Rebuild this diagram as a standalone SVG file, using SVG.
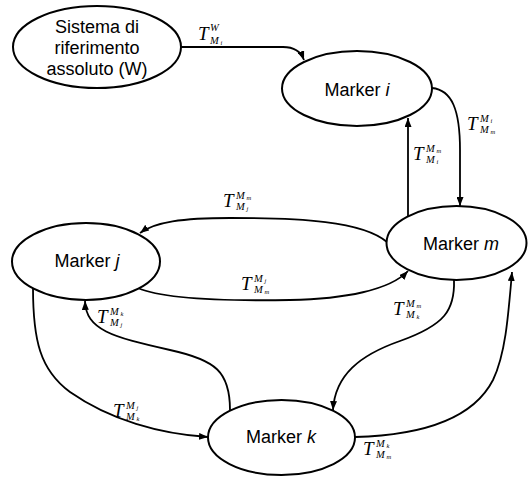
<svg xmlns="http://www.w3.org/2000/svg" width="528" height="478" viewBox="0 0 528 478">
  <style>
    .node ellipse { fill: #ffffff; stroke: #000000; stroke-width: 2; }
    .node text { font-family: "Liberation Sans", Arial, sans-serif; font-size: 18px; fill: #000000; text-anchor: middle; }
    .it { font-style: italic; }
    #edges path { fill: none; stroke: #000000; stroke-width: 1.8; marker-end: url(#arrow); }
    .lbl text { font-family: "Liberation Serif", "Times New Roman", serif; font-style: italic; fill: #000000; }
    .lbl .T { font-size: 19px; }
    .lbl .M { font-size: 10.5px; }
    .lbl .t { font-size: 6.5px; }
  </style>
  <defs>
    <marker id="arrow" markerUnits="userSpaceOnUse" markerWidth="9" markerHeight="7" viewBox="0 0 9 7" refX="9" refY="3.5" orient="auto">
      <path d="M0,0 L9,3.5 L0,7 Z" fill="#000000"/>
    </marker>
  </defs>
  <rect width="528" height="478" fill="#ffffff"/>

  <!-- connectors -->
  <g id="edges">
    <path d="M181,47 L283,47 C294,47 301,52 304,60"/>
    <path d="M432,88 C452,90 460,110 460,150 L460,206"/>
    <path d="M408,216 L408,118"/>
    <path d="M387,242 C362,221 300,218 230,218 C182,218 155,222 140,233"/>
    <path d="M138,288 C165,300 230,301 290,300 C345,299 390,290 408,271"/>
    <path d="M230,410 C230,372 216,360 170,350 C112,337 86,330 85,301"/>
    <path d="M33,288 C33,340 40,370 70,392 C110,420 160,434 208,437"/>
    <path d="M454,280 C455,310 445,325 400,341 C360,355 335,375 333,410"/>
    <path d="M355,437 C430,435 475,415 493,380 C505,355 508,320 512,272"/>
  </g>

  <!-- transform labels -->
  <g id="labels">
    <g class="lbl" transform="translate(198,40)">
      <text class="T">T</text>
      <text class="M" x="12" y="-9">W</text>
      <text class="M" x="12" y="4">M</text><text class="t" x="22.5" y="5">i</text>
    </g>
    <g class="lbl" transform="translate(467,130)">
      <text class="T">T</text>
      <text class="M" x="13" y="-8">M</text><text class="t" x="23.5" y="-7">i</text>
      <text class="M" x="13" y="3">M</text><text class="t" x="23.5" y="4">m</text>
    </g>
    <g class="lbl" transform="translate(413,160)">
      <text class="T">T</text>
      <text class="M" x="13" y="-8">M</text><text class="t" x="23.5" y="-7">m</text>
      <text class="M" x="13" y="3">M</text><text class="t" x="23.5" y="4">i</text>
    </g>
    <g class="lbl" transform="translate(223,207)">
      <text class="T">T</text>
      <text class="M" x="13" y="-8">M</text><text class="t" x="23.5" y="-7">m</text>
      <text class="M" x="13" y="3">M</text><text class="t" x="23.5" y="4">j</text>
    </g>
    <g class="lbl" transform="translate(241,290)">
      <text class="T">T</text>
      <text class="M" x="13" y="-8">M</text><text class="t" x="23.5" y="-7">j</text>
      <text class="M" x="13" y="3">M</text><text class="t" x="23.5" y="4">m</text>
    </g>
    <g class="lbl" transform="translate(97,323)">
      <text class="T">T</text>
      <text class="M" x="13" y="-8">M</text><text class="t" x="23.5" y="-7">k</text>
      <text class="M" x="13" y="3">M</text><text class="t" x="23.5" y="4">j</text>
    </g>
    <g class="lbl" transform="translate(393,315)">
      <text class="T">T</text>
      <text class="M" x="13" y="-8">M</text><text class="t" x="23.5" y="-7">m</text>
      <text class="M" x="13" y="3">M</text><text class="t" x="23.5" y="4">k</text>
    </g>
    <g class="lbl" transform="translate(113,417)">
      <text class="T">T</text>
      <text class="M" x="13" y="-8">M</text><text class="t" x="23.5" y="-7">j</text>
      <text class="M" x="13" y="3">M</text><text class="t" x="23.5" y="4">k</text>
    </g>
    <g class="lbl" transform="translate(363,455)">
      <text class="T">T</text>
      <text class="M" x="13" y="-8">M</text><text class="t" x="23.5" y="-7">k</text>
      <text class="M" x="13" y="3">M</text><text class="t" x="23.5" y="4">m</text>
    </g>
  </g>

  <!-- nodes -->
  <g id="node-world" class="node">
    <ellipse cx="97" cy="47" rx="84" ry="41"/>
    <text x="97" y="33">Sistema di</text>
    <text x="97" y="54">riferimento</text>
    <text x="97" y="75">assoluto (W)</text>
  </g>
  <g id="node-i" class="node">
    <ellipse cx="357" cy="88.5" rx="75" ry="37.5"/>
    <text x="357" y="96">Marker <tspan class="it">i</tspan></text>
  </g>
  <g id="node-m" class="node">
    <ellipse cx="456.5" cy="243" rx="70" ry="37"/>
    <text x="461" y="250">Marker <tspan class="it">m</tspan></text>
  </g>
  <g id="node-j" class="node">
    <ellipse cx="86" cy="261.5" rx="74" ry="38.5"/>
    <text x="87" y="267">Marker <tspan class="it">j</tspan></text>
  </g>
  <g id="node-k" class="node">
    <ellipse cx="281.5" cy="437.5" rx="73.5" ry="37.5"/>
    <text x="281" y="443">Marker <tspan class="it">k</tspan></text>
  </g>
</svg>
